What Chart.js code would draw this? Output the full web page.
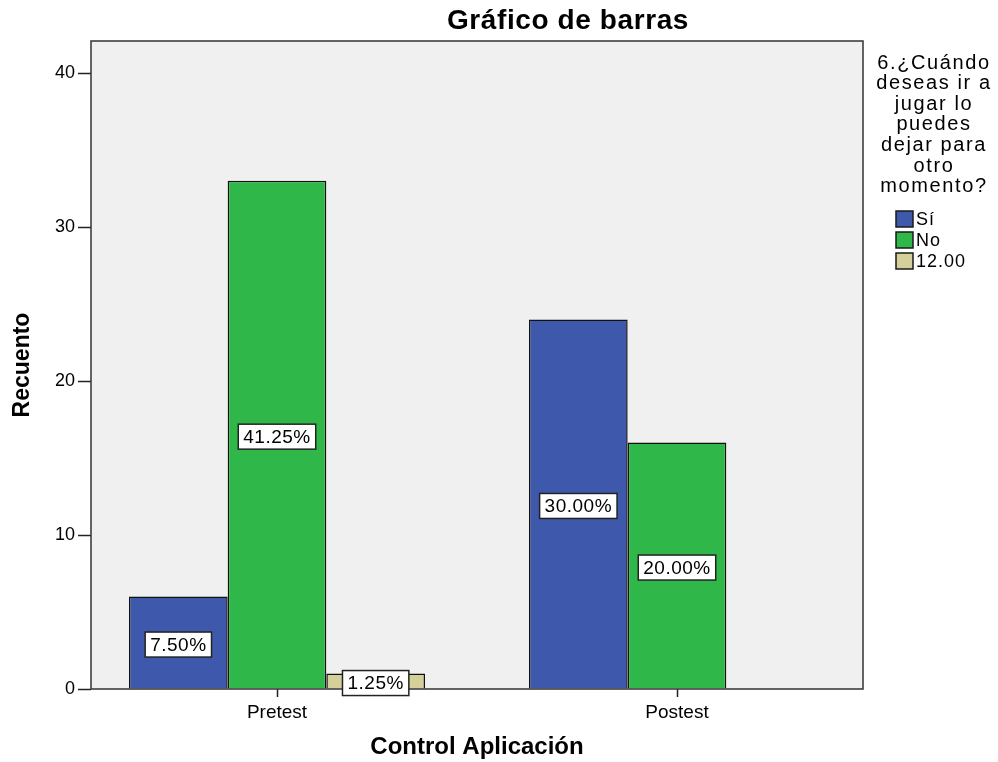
<!DOCTYPE html>
<html><head><meta charset="utf-8">
<script src="https://cdn.jsdelivr.net/npm/chart.js@4.4.0/dist/chart.umd.min.js"></script>
<style>html,body{margin:0;padding:0;background:#fff}#wrap{width:998px;height:762px;position:relative}</style>
</head><body><div id="wrap"><canvas id="c" width="998" height="762"></canvas></div>
<script>
const categories = ['Pretest', 'Postest'];
const seriesNames = ['Sí', 'No', '12.00'];
const siValues = [6, 24];
const noValues = [33, 16];
const doceValues = [1, null];
const yTicks = [0, 10, 20, 30, 40];
const chartTitle = 'Gráfico de barras';
const legendTitle = ['6.¿Cuándo', 'deseas ir a', 'jugar lo', 'puedes', 'dejar para', 'otro', 'momento?'];
const xTitle = 'Control Aplicación';
const yTitle = 'Recuento';
const colors = ['#3e58ab', '#2fb74a', '#d5cf9a'];

const FONT = "'Liberation Sans', Arial, sans-serif";
const allSeries = [siValues, noValues, doceValues];
const total = allSeries.flat().filter(v => v != null).reduce((a, b) => a + b, 0);

const datasets = allSeries.map((vals, di) => ({
  label: seriesNames[di],
  data: vals.map((v, i) => ({ x: i, y: v })),
  backgroundColor: colors[di],
  borderColor: '#111',
  borderWidth: 1.5,
  categoryPercentage: 0.74,
  barPercentage: 1.0
}));

const decor = {
  id: 'decor',
  beforeDraw(chart) {
    const { ctx, chartArea: a } = chart;
    ctx.save();
    ctx.fillStyle = '#f0f0f0';
    ctx.fillRect(a.left, a.top, a.right - a.left, a.bottom - a.top);
    ctx.restore();
  },
  afterDatasetsDraw(chart) {
    const { ctx, chartArea: a } = chart;
    ctx.save();
    ctx.strokeStyle = '#333';
    ctx.lineWidth = 1.5;
    ctx.strokeRect(a.left, a.top, a.right - a.left, a.bottom - a.top);
    // data labels
    ctx.font = '19px ' + FONT;
    ctx.letterSpacing = '0.5px';
    ctx.textAlign = 'center';
    ctx.textBaseline = 'middle';
    chart.data.datasets.forEach((ds, di) => {
      const meta = chart.getDatasetMeta(di);
      meta.data.forEach((el, i) => {
        const v = ds.data[i].y;
        if (v == null) return;
        const txt = (v / total * 100).toFixed(2) + '%';
        const cx = el.x;
        const cy = (el.y + el.base) / 2 + 2;
        const w = ctx.measureText(txt).width + 10;
        const h = 25;
        ctx.fillStyle = '#fff';
        ctx.fillRect(cx - w / 2, cy - h / 2, w, h);
        ctx.strokeStyle = '#222';
        ctx.lineWidth = 1.5;
        ctx.strokeRect(cx - w / 2, cy - h / 2, w, h);
        ctx.fillStyle = '#000';
        ctx.fillText(txt, cx, cy + 1);
      });
    });
    ctx.restore();
  },
  afterDraw(chart) {
    const { ctx } = chart;
    ctx.save();
    ctx.fillStyle = '#000';
    ctx.textBaseline = 'middle';
    ctx.textAlign = 'center';
    ctx.font = 'bold 28px ' + FONT;
    ctx.letterSpacing = '0.6px';
    ctx.fillText(chartTitle, 568, 21);
    // legend
    ctx.font = '20px ' + FONT;
    ctx.letterSpacing = '1.6px';
    legendTitle.forEach((t, i) => ctx.fillText(t, 934, 63 + i * 20.6));
    ctx.textAlign = 'left';
    ctx.font = '18px ' + FONT;
    ctx.letterSpacing = '1px';
    chart.data.datasets.forEach((ds, i) => {
      const cy = 219 + i * 21;
      ctx.fillStyle = ds.backgroundColor;
      ctx.fillRect(896, cy - 8, 17, 16);
      ctx.strokeStyle = '#1a1a1a';
      ctx.lineWidth = 1.5;
      ctx.strokeRect(896, cy - 8, 17, 16);
      ctx.fillStyle = '#000';
      ctx.fillText(ds.label, 916, cy + 1);
    });
    ctx.restore();
  }
};

new Chart(document.getElementById('c'), {
  type: 'bar',
  data: { datasets },
  options: {
    responsive: false,
    animation: false,
    devicePixelRatio: 1,
    layout: { padding: { left: 0, top: 41, right: 135, bottom: 0 } },
    plugins: { legend: { display: false }, title: { display: false }, tooltip: { enabled: false } },
    scales: {
      x: {
        type: 'linear',
        offset: false,
        min: -0.465,
        max: 1.465,
        afterBuildTicks: s => { s.ticks = categories.map((c, i) => ({ value: i })); },
        afterFit: s => { s.height = 73; },
        ticks: {
          autoSkip: false, maxRotation: 0,
          callback: v => categories[v],
          font: { family: FONT, size: 19 }, color: '#000', padding: 4
        },
        grid: { offset: false, drawOnChartArea: false, drawTicks: true, tickLength: 8, tickColor: '#222', tickWidth: 1.5 },
        border: { display: false },
        title: { display: true, text: xTitle, color: '#000', font: { family: FONT, size: 24, weight: 'bold' }, padding: { top: 0, bottom: 0 } }
      },
      y: {
        min: 0,
        max: 42.08,
        afterBuildTicks: s => { s.ticks = yTicks.map(v => ({ value: v })); },
        afterFit: s => { s.width = 91; },
        ticks: { font: { family: FONT, size: 18 }, color: '#000', padding: 3 },
        grid: { drawOnChartArea: false, drawTicks: true, tickLength: 13, tickColor: '#222', tickWidth: 1.5 },
        border: { display: false },
        title: { display: true, text: yTitle, color: '#000', font: { family: FONT, size: 23, weight: 'bold' }, padding: { top: 9, bottom: 0 } }
      }
    }
  },
  plugins: [decor]
});
</script></body></html>
